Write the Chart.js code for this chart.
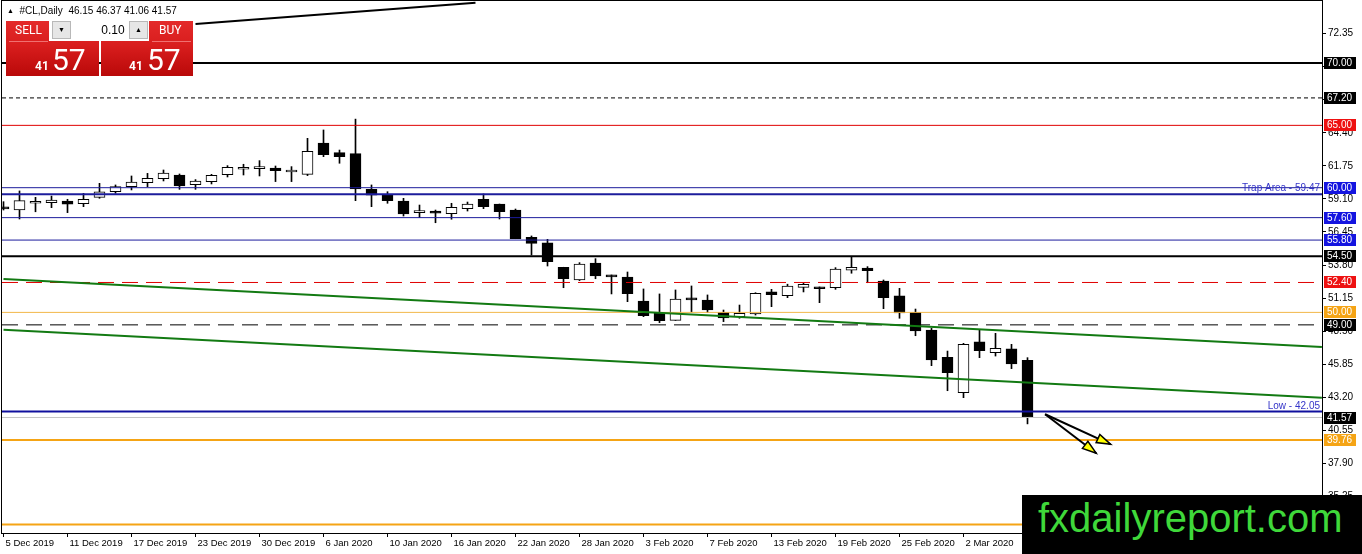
<!DOCTYPE html>
<html>
<head>
<meta charset="utf-8">
<title>#CL,Daily</title>
<script src="https://cdn.jsdelivr.net/npm/chart.js@4.4.1/dist/chart.umd.min.js"></script>
<style>
  html, body { margin: 0; padding: 0; background: #fff; }
  #wrap { position: relative; width: 1362px; height: 554px; overflow: hidden; font-family: 'Liberation Sans', Arial, sans-serif; }
  #c { position: absolute; left: 0; top: 0; }
  .abs { position: absolute; }
  .head { left: 7px; top: 5px; font-size: 10px; line-height: 12px; color: #000; white-space: pre; }
  .red { background: linear-gradient(to bottom, #e42a2a 0%, #d81d1d 45%, #b90909 100%); }
  .btxt { color: #fff; font-family: Roboto, 'Liberation Sans', sans-serif; white-space: pre; }
  .lot { left: 49px; top: 19px; width: 100px; height: 22px; background: #fff; }
  .btn { top: 2px; width: 19px; height: 18px; background: #e6e6e6; border: 1px solid #b8b8b8; box-sizing: border-box;
         font-size: 7px; line-height: 16px; text-align: center; color: #000; }
  .field { left: 23px; top: 2px; width: 56px; height: 18px; text-align: right; font-size: 12px; line-height: 18px; color: #000; }
  .mark { left: 1022px; top: 495px; width: 340px; height: 59px; background: #000; }
  .mark span { position: absolute; left: 16px; top: 3px; font-size: 40px; line-height: 40px; color: #3fd83a; font-family: 'Liberation Sans', Arial, sans-serif; }
</style>
</head>
<body>
<div id="wrap">
  <canvas id="c" width="1362" height="554"></canvas>

  <div class="abs head"><span style="font-size:7px;vertical-align:1px">&#9650;</span>  #CL,Daily  46.15 46.37 41.06 41.57</div>

  <div class="abs red" style="left:6px;top:21px;width:93px;height:55px"></div>
  <div class="abs red" style="left:101px;top:21px;width:92px;height:55px"></div>
  <div class="abs" style="left:9px;top:41px;width:39px;height:1px;background:#f07070"></div>
  <div class="abs" style="left:152px;top:41px;width:39px;height:1px;background:#f07070"></div>
  <div class="abs btxt" style="left:15px;top:24px;font-size:12px;line-height:12px">SELL</div>
  <div class="abs btxt" style="left:159px;top:24px;font-size:12px;line-height:12px">BUY</div>
  <div class="abs btxt" style="left:35px;top:60px;font-size:12px;line-height:12px;font-weight:bold">41</div>
  <div class="abs btxt" style="left:52px;top:45px;font-size:30px;line-height:30px">57</div>
  <div class="abs btxt" style="left:129px;top:60px;font-size:12px;line-height:12px;font-weight:bold">41</div>
  <div class="abs btxt" style="left:147px;top:45px;font-size:30px;line-height:30px">57</div>
  <div class="abs lot">
    <div class="abs btn" style="left:3px">&#9660;</div>
    <div class="abs field">0.10&nbsp;</div>
    <div class="abs btn" style="left:80px">&#9650;</div>
  </div>

  <div class="abs mark"><span>fxdailyreport.com</span></div>
</div>

<script>
// date labels, one every 4 bars (bar 0 = 5 Dec 2019)
const tickDates = ['5 Dec 2019', '11 Dec 2019', '17 Dec 2019', '23 Dec 2019', '30 Dec 2019', '6 Jan 2020',
    '10 Jan 2020', '16 Jan 2020', '22 Jan 2020', '28 Jan 2020', '3 Feb 2020', '7 Feb 2020',
    '13 Feb 2020', '19 Feb 2020', '25 Feb 2020', '2 Mar 2020'];

// daily OHLC, 5 Dec 2019 .. 6 Mar 2020
const opens = [58.40, 58.21, 58.75, 58.80, 58.93, 58.72, 59.23, 59.68, 60.08, 60.40,
    60.72, 61.02, 60.24, 60.48, 61.04, 61.48, 61.53, 61.58, 61.26, 61.07,
    63.58, 62.81, 62.73, 59.87, 59.47, 58.93, 58.00, 58.13, 57.92, 58.32,
    59.07, 58.69, 58.21, 56.02, 55.57, 53.62, 52.60, 53.96, 53.00, 52.84,
    50.91, 49.93, 49.36, 51.10, 50.99, 50.00, 49.66, 49.87, 51.64, 51.35,
    52.01, 52.04, 51.98, 53.38, 53.56, 52.52, 51.32, 50.01, 48.59, 46.40,
    43.57, 47.63, 46.77, 47.07, 46.15];
const highs = [58.88, 59.74, 59.23, 59.33, 59.07, 59.55, 60.35, 60.22, 60.94, 61.15,
    61.42, 61.10, 60.65, 61.07, 61.77, 61.88, 62.17, 61.74, 61.69, 63.96,
    64.63, 63.02, 65.50, 60.22, 59.68, 59.15, 58.61, 58.21, 58.75, 58.85,
    59.50, 58.69, 58.29, 56.13, 55.86, 53.62, 53.99, 54.31, 53.00, 53.24,
    51.88, 51.48, 51.80, 52.12, 51.40, 50.19, 50.59, 51.58, 51.85, 52.26,
    52.33, 52.04, 53.59, 54.42, 53.67, 52.60, 51.93, 50.27, 48.72, 46.90,
    47.52, 48.59, 48.32, 47.44, 46.37];
const lows = [58.21, 57.49, 58.07, 58.40, 58.00, 58.48, 59.15, 59.55, 59.82, 60.08,
    60.54, 59.87, 59.87, 60.30, 60.86, 61.02, 60.94, 60.49, 60.49, 60.97,
    62.49, 61.96, 58.96, 58.48, 58.75, 57.73, 57.60, 57.19, 57.47, 58.13,
    58.32, 57.49, 55.91, 54.60, 53.72, 51.98, 52.55, 52.70, 51.48, 50.86,
    49.66, 49.18, 49.36, 50.03, 49.98, 49.26, 49.53, 49.79, 50.46, 51.18,
    51.64, 50.78, 51.85, 53.14, 52.38, 50.30, 49.53, 48.13, 45.73, 43.72,
    43.16, 46.37, 46.50, 45.49, 41.06];
const closes = [58.30, 58.96, 58.76, 59.01, 58.67, 59.07, 59.66, 60.08, 60.46, 60.75,
    61.18, 60.14, 60.54, 61.00, 61.64, 61.49, 61.54, 61.36, 61.27, 62.92,
    62.65, 62.49, 59.90, 59.41, 58.96, 57.89, 58.01, 57.95, 58.43, 58.69,
    58.48, 58.08, 55.92, 55.54, 54.07, 52.71, 53.88, 52.92, 52.85, 51.50,
    49.74, 49.34, 51.07, 51.00, 50.19, 49.55, 49.93, 51.53, 51.42, 52.12,
    52.26, 51.90, 53.48, 53.62, 53.35, 51.18, 49.95, 48.51, 46.18, 45.17,
    47.44, 46.93, 47.12, 45.86, 41.57];

// price scale ticks
const priceTicks = [72.35, 69.70, 67.05, 64.40, 61.75, 59.10, 56.45, 53.80, 51.15,
    48.50, 45.85, 43.20, 40.55, 37.90, 35.25, 32.60];

// horizontal levels drawn on the chart
const levelPrices = [70.00, 67.20, 65.00, 60.00, 59.47, 57.60, 55.80, 54.50, 52.40,
    50.00, 49.00, 42.05, 41.57, 39.76, 33.00];
const levelNotes = ['', '', '', '', 'Trap Area - 59.47', '', '', '', '',
    '', '', 'Low - 42.05', '', '', ''];
// prices that get a coloured tag on the price scale
const taggedPrices = [70.00, 67.20, 65.00, 60.00, 57.60, 55.80, 54.50, 52.40,
    50.00, 49.00, 41.57, 39.76, 33.00];

// trend lines as [bar, price] pairs
const channelUpper = [[0, 52.68], [82.4, 47.23]];
const channelLower = [[0, 48.60], [82.4, 43.16]];
const topTrend = [[12, 73.13], [29.5, 74.84]];
const arrowA = [[65.1, 41.83], [69.2, 39.42]];
const arrowB = [[65.1, 41.83], [68.3, 38.70]];

// ---- look ----
const FONT = "'Liberation Sans', Arial, sans-serif";
const NAVY = '#1c1c9c';
const ORANGE = '#f5a415';
const levelLook = [
    { c: '#000', w: 2 }, { c: '#000', w: 1, d: [4, 3] }, { c: '#e00000', w: 1 },
    { c: NAVY, w: 1 }, { c: NAVY, w: 2 }, { c: NAVY, w: 1 }, { c: NAVY, w: 1 },
    { c: '#000', w: 2 }, { c: '#e00000', w: 1, d: [16, 8] }, { c: '#f2b84a', w: 1 },
    { c: '#000', w: 1, d: [16, 8] }, { c: '#10109e', w: 2 }, { c: '#c4c4c4', w: 1 },
    { c: ORANGE, w: 2 }, { c: ORANGE, w: 2 }
];
const tagColor = p => {
    if (p === 65 || p === 52.4) return '#ee1111';
    if (p === 60 || p === 57.6 || p === 55.8) return '#1414e0';
    if (p === 50 || p === 39.76 || p === 33) return ORANGE;
    return '#000';
};

// bar 0 sits at pixel 3.5, 16 px per bar; plot 2..1322 x 1..533
const X_MIN = -1.5 / 16;
const X_MAX = X_MIN + 1320 / 16;
const Y_MAX = 70 + 62 / 12.47;
const Y_MIN = Y_MAX - 532 / 12.47;

const idx = opens.map((_, i) => i);
const pts = pair => pair.map(([x, y]) => ({ x: x, y: y }));

const datasets = [];

datasets.push({
    type: 'bar',
    data: idx.map(i => ({ x: i, y: [lows[i], highs[i]] })),
    backgroundColor: '#000',
    barThickness: 1,
    grouped: false,
    order: 3
});

datasets.push({
    type: 'bar',
    data: idx.map(i => ({ x: i, y: [opens[i], closes[i]] })),
    backgroundColor: idx.map(i => closes[i] >= opens[i] ? '#fff' : '#000'),
    borderColor: '#000',
    borderWidth: 1,
    borderSkipped: false,
    barThickness: 11,
    minBarLength: 2,
    grouped: false,
    order: 2
});

levelPrices.forEach((p, k) => {
    const look = levelLook[k];
    datasets.push({
        type: 'line',
        data: [{ x: X_MIN, y: p }, { x: X_MAX, y: p }],
        borderColor: look.c,
        borderWidth: look.w,
        borderDash: look.d || [],
        pointRadius: 0,
        order: 1
    });
});

[channelUpper, channelLower].forEach(line => {
    datasets.push({
        type: 'line', data: pts(line), borderColor: '#127a12', borderWidth: 2,
        pointRadius: 0, order: 0
    });
});
[topTrend, arrowA, arrowB].forEach(line => {
    datasets.push({
        type: 'line', data: pts(line), borderColor: '#000', borderWidth: 2,
        pointRadius: 0, order: 0
    });
});

const overlay = {
    id: 'overlay',
    afterDatasetsDraw(chart) {
        const { ctx, chartArea: a, scales: { x, y } } = chart;
        ctx.save();
        ctx.beginPath();
        ctx.rect(a.left, a.top, a.right - a.left, a.bottom - a.top);
        ctx.clip();

        // arrow heads
        [arrowA, arrowB].forEach(ar => {
            const x0 = x.getPixelForValue(ar[0][0]), y0 = y.getPixelForValue(ar[0][1]);
            const x1 = x.getPixelForValue(ar[1][0]), y1 = y.getPixelForValue(ar[1][1]);
            const ang = Math.atan2(y1 - y0, x1 - x0);
            const len = 14, half = 4.5;
            const bx = x1 - len * Math.cos(ang), by = y1 - len * Math.sin(ang);
            ctx.beginPath();
            ctx.moveTo(x1, y1);
            ctx.lineTo(bx + half * Math.sin(ang), by - half * Math.cos(ang));
            ctx.lineTo(bx - half * Math.sin(ang), by + half * Math.cos(ang));
            ctx.closePath();
            ctx.fillStyle = '#ffff00';
            ctx.fill();
            ctx.lineWidth = 1.5;
            ctx.strokeStyle = '#000';
            ctx.stroke();
        });

        // notes on levels
        ctx.font = '10px ' + FONT;
        ctx.fillStyle = '#3434c8';
        ctx.textAlign = 'right';
        ctx.textBaseline = 'bottom';
        levelPrices.forEach((p, k) => {
            if (!levelNotes[k]) return;
            ctx.fillText(levelNotes[k], a.right - 2, Math.round(y.getPixelForValue(p)) - 1);
        });
        ctx.restore();
    },
    afterDraw(chart) {
        const { ctx, chartArea: a, scales: { y } } = chart;
        ctx.save();
        ctx.strokeStyle = '#000';
        ctx.lineWidth = 1;
        ctx.strokeRect(a.left - 0.5, a.top - 0.5, a.right - a.left + 1, a.bottom - a.top + 1);

        // price tags on the scale
        ctx.font = '10px ' + FONT;
        ctx.textAlign = 'left';
        ctx.textBaseline = 'middle';
        taggedPrices.forEach(p => {
            const py = Math.round(y.getPixelForValue(p));
            ctx.fillStyle = tagColor(p);
            ctx.fillRect(a.right + 2, py - 6, 32, 12);
            ctx.fillStyle = '#fff';
            ctx.fillText(p.toFixed(2), a.right + 5, py + 0.5);
        });
        ctx.restore();
    }
};

new Chart(document.getElementById('c').getContext('2d'), {
    type: 'bar',
    data: { datasets: datasets },
    options: {
        responsive: false,
        animation: false,
        devicePixelRatio: 1,
        layout: { padding: { left: 2, top: 1, right: 0, bottom: 0 } },
        plugins: { legend: { display: false }, tooltip: { enabled: false } },
        scales: {
            x: {
                type: 'linear',
                min: X_MIN,
                max: X_MAX,
                offset: false,
                afterBuildTicks: s => { s.ticks = tickDates.map((_, k) => ({ value: k * 4 })); },
                afterFit: s => { s.height = 21; s.paddingLeft = 0; s.paddingRight = 0; },
                ticks: {
                    autoSkip: false,
                    maxRotation: 0,
                    align: 'start',
                    labelOffset: 2,
                    padding: 1,
                    color: '#000',
                    font: { family: FONT, size: 9.5 },
                    callback: v => tickDates[Math.round(v / 4)]
                },
                grid: { offset: false, drawOnChartArea: false, tickLength: 4, color: '#000' },
                border: { color: '#000' }
            },
            y: {
                type: 'linear',
                position: 'right',
                min: Y_MIN,
                max: Y_MAX,
                afterBuildTicks: s => { s.ticks = priceTicks.map(v => ({ value: v })); },
                afterFit: s => { s.width = 40; s.paddingTop = 0; s.paddingBottom = 0; },
                ticks: {
                    autoSkip: false,
                    padding: 2,
                    color: '#000',
                    font: { family: FONT, size: 10 },
                    callback: v => v.toFixed(2)
                },
                grid: { drawOnChartArea: false, tickLength: 4, color: '#000' },
                border: { color: '#000' }
            }
        }
    },
    plugins: [overlay]
});
</script>
</body>
</html>
